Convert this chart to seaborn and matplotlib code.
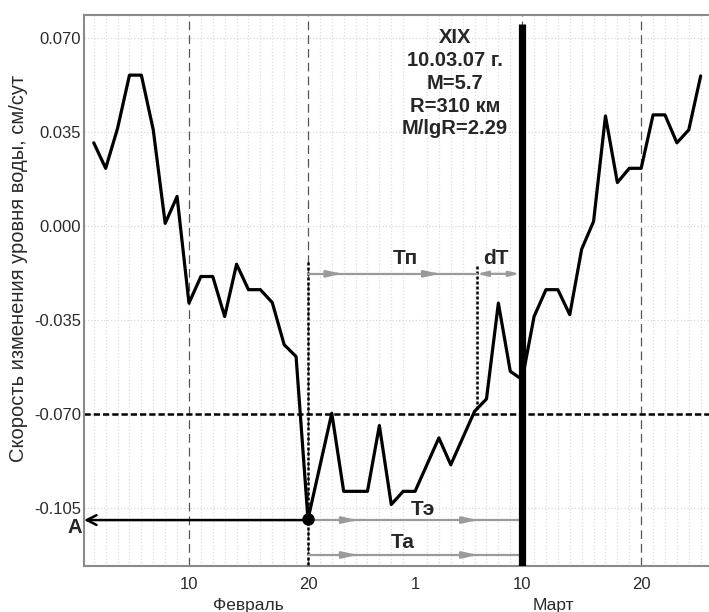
import seaborn as sns
import matplotlib.pyplot as plt
from matplotlib.ticker import MultipleLocator

# day number counted from 1 Feb 2007 (Mar 1 = 29)
days = [2, 3, 4, 5, 6, 7, 8, 9, 10, 11, 12, 13, 14, 15, 16, 17, 18, 19, 20,
        22, 23, 24, 25, 26, 27, 28, 29, 31, 32, 34, 35, 36, 37, 38, 39, 40,
        41, 42, 43, 44, 45, 46, 47, 48, 49, 50, 51, 52, 53]
rate = [0.031, 0.0215, 0.0364, 0.0562, 0.0562, 0.0358, 0.001, 0.011, -0.0287,
        -0.0188, -0.0188, -0.0337, -0.0142, -0.0237, -0.0237, -0.0285, -0.0442,
        -0.0486, -0.1092, -0.0697, -0.0988, -0.0988, -0.0988, -0.0743, -0.1037,
        -0.0988, -0.0988, -0.0789, -0.0889, -0.069, -0.0644, -0.0287, -0.0541,
        -0.0572, -0.0337, -0.0237, -0.0237, -0.033, -0.0086, 0.0017, 0.041,
        0.0162, 0.0215, 0.0215, 0.0414, 0.0414, 0.031, 0.0358, 0.0559]

xtick_pos = [10, 20, 29, 38, 48]
xtick_labels = ['10', '20', '1', '10', '20']
ytick_pos = [-0.105, -0.070, -0.035, 0.000, 0.035, 0.070]
month_names = ['Февраль', 'Март']
month_pos = [15, 40.6]

threshold = -0.070
quake_day = 38
start_day = 20
cross_day = 34.2
quake_text = 'XIX\n10.03.07 г.\nM=5.7\nR=310 км\nM/lgR=2.29'

sns.set_style('white')
plt.rcParams['font.family'] = ['Liberation Sans', 'DejaVu Sans']

fig = plt.figure(figsize=(7.09, 6.12), dpi=100)
ax = fig.add_axes([0.1185, 0.0752, 0.8815, 0.9003])

# grid
ax.xaxis.set_minor_locator(MultipleLocator(1))
ax.grid(which='minor', axis='x', color='#dedede', ls=':', lw=0.9)
ax.grid(which='major', axis='y', color='#d8d8d8', ls=':', lw=0.9)
for d in [10, 20, 38, 48]:
    ax.axvline(d, color='#555555', ls=(0, (7, 4)), lw=0.9, zorder=1)

ax.axhline(threshold, color='black', ls=(0, (2.5, 1.2)), lw=1.8, zorder=2)

sns.lineplot(x=days, y=rate, color='black', lw=2.3, ax=ax, zorder=4)

# earthquake line
ax.plot([quake_day, quake_day], [-0.13, 0.0752], color='black', lw=5.2,
        solid_capstyle='butt', zorder=5)
ax.text(32.35, 0.0738, quake_text, ha='center', va='top', fontsize=14.5,
        fontweight='bold', linespacing=1.26, zorder=6)

# dotted markers
ax.plot([start_day, start_day], [-0.13, -0.0126], color='black',
        ls=(0, (1.2, 0.8)), lw=1.8, zorder=3)
ax.plot([cross_day, cross_day], [-0.068, -0.0145], color='black',
        ls=(0, (1.2, 0.8)), lw=1.8, zorder=3)

# gray interval arrows
gray = '#9a9a9a'
def interval(x0, x1, y, heads):
    ax.plot([x0, x1], [y, y], color=gray, lw=1.6, zorder=3)
    for h in heads:
        ax.annotate('', xy=(h + 0.9, y), xytext=(h - 0.1, y),
                    arrowprops=dict(arrowstyle='-|>,head_length=0.9,head_width=0.2',
                                    color=gray, lw=1.6), zorder=3)

interval(start_day, cross_day, -0.0178, [22.2, 30.4])
ax.annotate('', xy=(cross_day, -0.0178), xytext=(37.8, -0.0178),
            arrowprops=dict(arrowstyle='<|-|>,head_length=0.6,head_width=0.15',
                            color=gray, lw=1.6, shrinkA=0, shrinkB=0), zorder=3)
interval(start_day, 37.8, -0.1095, [23.5, 33.6])
interval(start_day, 37.8, -0.1225, [23.5, 33.6])

ax.text(28.2, -0.0158, 'Тп', ha='center', va='bottom', fontsize=15, fontweight='bold')
ax.text(35.8, -0.0158, 'dT', ha='center', va='bottom', fontsize=15, fontweight='bold')
ax.text(29.7, -0.1055, 'Тэ', ha='center', va='center', fontsize=15, fontweight='bold')
ax.text(28.0, -0.1180, 'Та', ha='center', va='center', fontsize=15, fontweight='bold')

# start point and arrow to A
ax.plot([start_day], [-0.1092], 'o', color='black', ms=8, zorder=6)
ax.annotate('', xy=(1.18, -0.1095), xytext=(start_day, -0.1095),
            arrowprops=dict(arrowstyle='->,head_length=0.7,head_width=0.35',
                            color='black', lw=1.8, shrinkA=0, shrinkB=0),
            annotation_clip=False, zorder=6)
ax.text(0.42, -0.1122, 'A', ha='center', va='center', fontsize=14.5,
        fontweight='bold', clip_on=False)

ax.set_xlim(1.18, 53.7)
ax.set_ylim(-0.1266, 0.0786)
ax.set_xticks(xtick_pos)
ax.set_xticklabels(xtick_labels)
ax.set_yticks(ytick_pos)
ax.set_yticklabels([f'{v:.3f}' for v in ytick_pos])
ax.tick_params(axis='both', which='both', length=0, labelsize=12, colors='#2a2a2a')
ax.tick_params(axis='x', pad=8)
ax.tick_params(axis='y', pad=2)

for name, pos in zip(month_names, month_pos):
    ax.text(pos, -0.1385, name, ha='center', va='top', fontsize=12.5,
            color='#2a2a2a', clip_on=False)

ax.set_ylabel('Скорость изменения уровня воды, см/сут', fontsize=14.5,
              color='#2a2a2a')
ax.yaxis.set_label_coords(-0.09, 0.54)

for s in ['left', 'top', 'bottom']:
    ax.spines[s].set_color('#8a8a8a')
    ax.spines[s].set_linewidth(1.5)
ax.spines['right'].set_visible(False)

fig.savefig('out.png', dpi=100)
